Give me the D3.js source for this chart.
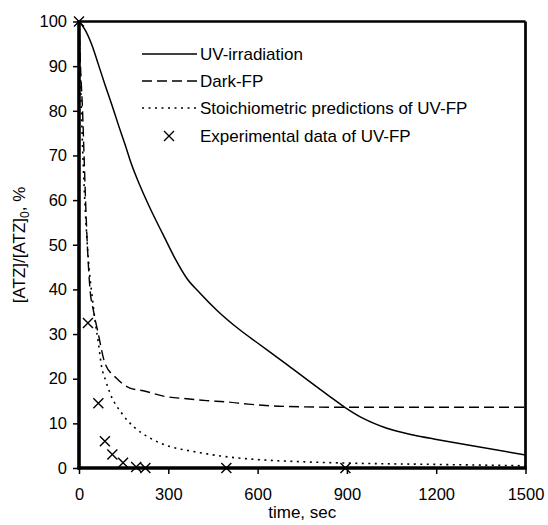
<!DOCTYPE html>
<html>
<head>
<meta charset="utf-8">
<script src="https://cdn.jsdelivr.net/npm/d3@7"></script>
<style>
  body { margin: 0; background: #fff; }
  text { font-family: Arial, "Liberation Sans", sans-serif; fill: #000; }
</style>
</head>
<body>
<svg id="chart" width="548" height="525"></svg>
<script>
// UV-irradiation only
const uvTime  = [0, 20, 43, 65, 87, 110, 132, 155, 177, 205, 240, 283, 322, 362, 406, 462, 541, 600, 700, 800, 843, 893, 955, 1034, 1123, 1201, 1336, 1500];
const uvValue = [100, 98.2, 94.8, 90.4, 85.9, 81.4, 76.9, 72.4, 67.9, 63.2, 58, 52.2, 47, 42.5, 39.2, 35.4, 30.9, 28.0, 23.1, 18.1, 16, 13.6, 11.1, 8.9, 7.4, 6.4, 4.8, 2.9];

// Dark Fenton process
const darkTime  = [0, 5, 12, 17, 22, 28, 37, 48, 65, 87, 126, 171, 216, 283, 362, 429, 496, 569, 650, 750, 900, 1200, 1500];
const darkValue = [100, 90, 80, 70, 60, 50, 40, 35.4, 30, 23.5, 20.1, 17.9, 17.3, 16.1, 15.5, 15.1, 14.8, 14.3, 13.9, 13.7, 13.6, 13.6, 13.6];

// Stoichiometric predictions of UV-FP
const stoTime  = [0, 8, 16, 25, 35, 45, 54, 65, 76, 90, 104, 143, 188, 239, 306, 384, 474, 597, 750, 900, 1200, 1500];
const stoValue = [100, 80, 65, 53, 44, 38, 33, 28, 22.7, 19.5, 16.8, 12.3, 9, 6.7, 4.8, 3.7, 2.7, 1.9, 1.4, 1.1, 0.8, 0.5];

// Experimental data of UV-FP
const expTime  = [0, 30, 65, 87, 112, 148, 192, 223, 495, 895];
const expValue = [100, 32.5, 14.5, 6, 3, 1.2, 0.2, 0, 0, 0];

const xTicks = [0, 300, 600, 900, 1200, 1500];
const yTicks = [0, 10, 20, 30, 40, 50, 60, 70, 80, 90, 100];

const legendLabels = ["UV-irradiation", "Dark-FP", "Stoichiometric predictions of UV-FP", "Experimental data of UV-FP"];

const svg = d3.select("#chart");
const plotL = 79, plotR = 525.5, plotT = 21.5, plotB = 468;

const x = d3.scaleLinear().domain([0, 1500]).range([plotL, plotR]);
const y = d3.scaleLinear().domain([0, 100]).range([plotB, plotT]);

// tick marks and labels
const yAxis = d3.axisLeft(y).tickValues(yTicks).tickSize(6).tickPadding(6).tickFormat(d3.format("d"));
const gy = svg.append("g").attr("transform", `translate(${plotL},0)`).call(yAxis);
gy.select(".domain").remove();
gy.selectAll(".tick line").attr("stroke", "#000").attr("stroke-width", 1.5);
gy.selectAll(".tick text").style("font-size", "16.5px").attr("font-family", null);

const xAxis = d3.axisBottom(x).tickValues(xTicks).tickSize(6).tickPadding(14).tickFormat(d3.format("d"));
const gx = svg.append("g").attr("transform", `translate(0,${plotB})`).call(xAxis);
gx.select(".domain").remove();
gx.selectAll(".tick line").attr("stroke", "#000").attr("stroke-width", 1.5);
gx.selectAll(".tick text").style("font-size", "16.5px").attr("font-family", null);

// frame
svg.append("line").attr("x1", plotL).attr("x2", plotR).attr("y1", plotT).attr("y2", plotT)
  .attr("stroke", "#000").attr("stroke-width", 2.7);
svg.append("line").attr("x1", plotR).attr("x2", plotR).attr("y1", plotT).attr("y2", plotB)
  .attr("stroke", "#000").attr("stroke-width", 2.7);

// series
const line = d3.line().x(d => x(d[0])).y(d => y(d[1])).curve(d3.curveMonotoneX);
const zip = (a, b) => a.map((t, i) => [t, b[i]]);

svg.append("path").datum(zip(uvTime, uvValue)).attr("d", line)
  .attr("fill", "none").attr("stroke", "#000").attr("stroke-width", 1.5);
svg.append("path").datum(zip(darkTime, darkValue)).attr("d", line)
  .attr("fill", "none").attr("stroke", "#000").attr("stroke-width", 1.4).attr("stroke-dasharray", "10,5");
svg.append("path").datum(zip(stoTime, stoValue)).attr("d", line)
  .attr("fill", "none").attr("stroke", "#000").attr("stroke-width", 1.6).attr("stroke-dasharray", "2,4.5");

// axis lines (thick) drawn over the curves
svg.append("line").attr("x1", plotL).attr("x2", plotL).attr("y1", plotT - 1.3).attr("y2", plotB + 1.5)
  .attr("stroke", "#000").attr("stroke-width", 3.6);
svg.append("line").attr("x1", plotL - 1.5).attr("x2", plotR + 1.3).attr("y1", plotB).attr("y2", plotB)
  .attr("stroke", "#000").attr("stroke-width", 3.6);

// experimental markers
const cross = (g, cx, cy, r) => {
  g.append("path").attr("d", `M${cx - r},${cy - r}L${cx + r},${cy + r}M${cx - r},${cy + r}L${cx + r},${cy - r}`)
    .attr("stroke", "#000").attr("stroke-width", 1.4).attr("fill", "none");
};
const gm = svg.append("g");
expTime.forEach((t, i) => cross(gm, x(t), y(expValue[i]), 5));

// legend
const lg = svg.append("g");
const rowY = [54, 81, 108, 136];
const dashes = [null, "10,5", "2,4.5"];
for (let i = 0; i < 3; i++) {
  const l = lg.append("line").attr("x1", 142).attr("x2", 197).attr("y1", rowY[i]).attr("y2", rowY[i])
    .attr("stroke", "#000").attr("stroke-width", i === 2 ? 1.6 : 1.5);
  if (dashes[i]) l.attr("stroke-dasharray", dashes[i]);
}
cross(lg, 169, rowY[3], 5);
legendLabels.forEach((s, i) => {
  lg.append("text").attr("x", 200).attr("y", rowY[i]).attr("dy", "0.36em")
    .style("font-size", "17px").text(s);
});

// axis titles
svg.append("text").attr("x", (plotL + plotR) / 2).attr("y", 518).attr("text-anchor", "middle")
  .style("font-size", "17px").text("time, sec");

const yt = svg.append("text").attr("transform", "translate(25,245) rotate(-90)")
  .attr("text-anchor", "middle").style("font-size", "17px");
yt.append("tspan").text("[ATZ]/[ATZ]");
yt.append("tspan").attr("dy", 4).style("font-size", "12px").text("0");
yt.append("tspan").attr("dy", -4).text(", %");
</script>
</body>
</html>
